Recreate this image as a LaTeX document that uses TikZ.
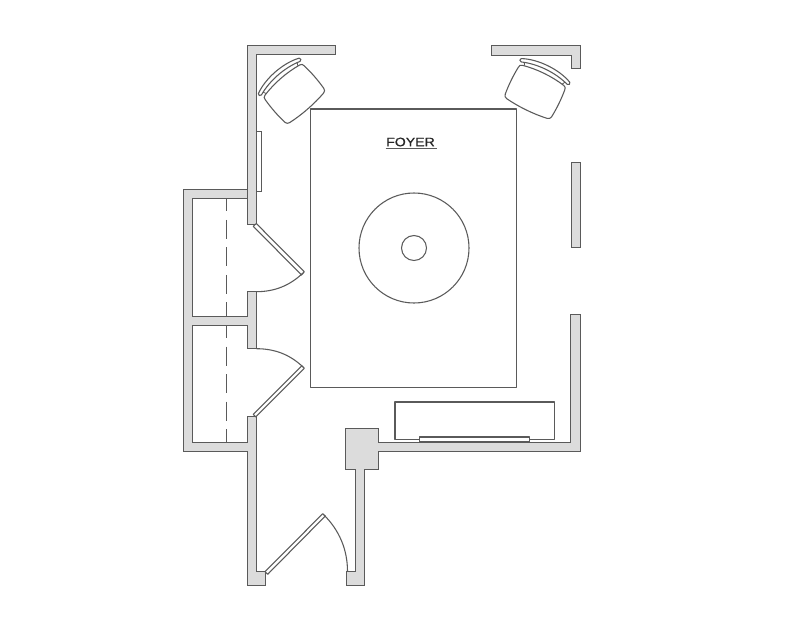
\documentclass[tikz,border=0pt]{standalone}
\usepackage{fontspec}
\setmainfont{Liberation Sans}
\definecolor{wallfill}{HTML}{DCDCDC}
\definecolor{inkline}{HTML}{5A5A5A}
\tikzset{
  wall/.style={draw=inkline,fill=wallfill,line width=0.75pt,line join=miter},
  furn/.style={draw=inkline,fill=white,line width=0.8pt,line join=round},
  thin outline/.style={draw=inkline,fill=white,line width=0.5pt},
  swing/.style={draw=inkline,line width=0.8pt},
  closetline/.style={draw=inkline,line width=0.7pt,dash pattern=on 14.25pt off 6.4pt},
}
\newcommand{\chairshape}{%
  % seat
  \path[furn] (-23,-18.5) .. controls (-8,-21.5) and (8,-21.5) .. (23,-18.5)
    .. controls (25,-18) and (25.8,-17) .. (25.8,-15)
    .. controls (26.8,-5) and (26.8,5) .. (25.8,15)
    .. controls (25.5,17) and (24.5,18) .. (22.5,18.4)
    .. controls (8,20.5) and (-8,20.5) .. (-22.5,18.4)
    .. controls (-24.5,18) and (-25.5,17) .. (-25.8,15)
    .. controls (-26.8,5) and (-26.8,-5) .. (-25.8,-15)
    .. controls (-25.8,-17) and (-25,-18) .. (-23,-18.5) -- cycle;
  % back rest
  \path[furn] (-27,-24) .. controls (-12,-31) and (12,-31) .. (27,-24)
    .. controls (28.5,-23) and (27.5,-20.5) .. (25.5,-21)
    .. controls (10,-26.5) and (-10,-26.5) .. (-25.5,-21)
    .. controls (-27.5,-20.5) and (-28.5,-23) .. (-27,-24) -- cycle;
  \draw[inkline,line width=0.6pt] (-22.5,-21.8) -- (-21,-19) (22.5,-21.8) -- (21,-19);
}
\begin{document}
\begin{tikzpicture}[x=0.75pt,y=-0.75pt]
\path[use as bounding box,fill=white] (0,0) rectangle (800,618);

% rug and round table
\path[furn,fill=none] (310.5,109) rectangle (516.5,387.5);
\path[furn,fill=none] (414,248) circle (55);
\path[furn,fill=none] (414,248) circle (12.5);

% closet rods
\draw[closetline,dash phase=4.5pt] (226.7,198.3) -- (226.7,316);
\draw[closetline,dash phase=4.5pt] (226.7,325) -- (226.7,442);

% thin mirror panel and console
\path[thin outline] (256.3,131.7) rectangle (261,191.3);
\path[furn] (395,402) rectangle (554.7,439.5);
\path[furn] (419.7,437) rectangle (529.3,442);

% walls
\path[wall] (335.3,45) -- (247,45) -- (247,224) -- (256.3,224) -- (256.3,54.7) -- (335.3,54.7) -- cycle;
\path[wall] (247,189.3) -- (183.3,189.3) -- (183.3,451) -- (247,451) -- (247,585) -- (265,585) -- (265,571.3)
  -- (256.3,571.3) -- (256.3,416.7) -- (247.3,416.7) -- (247.3,442) -- (192.3,442) -- (192.3,325) -- (247.3,325)
  -- (247.3,348.7) -- (256.3,348.7) -- (256.3,291.7) -- (247.3,291.7) -- (247.3,316) -- (192.3,316)
  -- (192.3,198.3) -- (247,198.3) -- cycle;
\path[wall] (346.7,585) -- (364,585) -- (364,469.3) -- (378,469.3) -- (378,451.3) -- (580.3,451.3) -- (580.3,314.3)
  -- (570.7,314.3) -- (570.7,442) -- (378,442) -- (378,428.3) -- (345.7,428.3) -- (345.7,469.3) -- (355,469.3)
  -- (355,571.3) -- (346.7,571.3) -- cycle;
\path[wall] (491,45.3) -- (580.3,45.3) -- (580.3,68.3) -- (571,68.3) -- (571,55) -- (491,55) -- cycle;
\path[wall] (571,162) rectangle (580.3,247);

% doors
\path[furn] (253.3,226.3) -- (256.3,223.5) -- (304.3,271.8) -- (301.5,275) -- cycle;
\draw[swing] (256.3,291.7) .. controls (274.4,291.7) and (289.7,285.7) .. (303,273);
\path[furn] (253.3,414.3) -- (255.8,416.9) -- (304.3,368.3) -- (301.8,365.7) -- cycle;
\draw[swing] (256.3,348.7) .. controls (274.4,348.7) and (289.7,354.3) .. (303,367);
\path[furn] (265,571.7) -- (267.7,574.3) -- (325.3,516) -- (322.7,513.7) -- cycle;
\draw[swing] (347.5,571.3) .. controls (347.5,549.6) and (339.3,530.3) .. (324,515);

% chairs
\begin{scope}[shift={(294.5,94)},rotate=41]
  \chairshape
\end{scope}
\begin{scope}[shift={(535,92)},rotate=-26]
  \chairshape
\end{scope}

% label
\node[inner sep=0pt,text=black!85] (foyer) at (410.5,142) {\fontsize{9.2pt}{11pt}\selectfont\addfontfeature{FakeBold=0.6}\scalebox{1.15}[1]{FOYER}};
\draw[inkline,line width=1.1pt] (385.5,148.3) -- (436.5,148.3);
\end{tikzpicture}
\end{document}
